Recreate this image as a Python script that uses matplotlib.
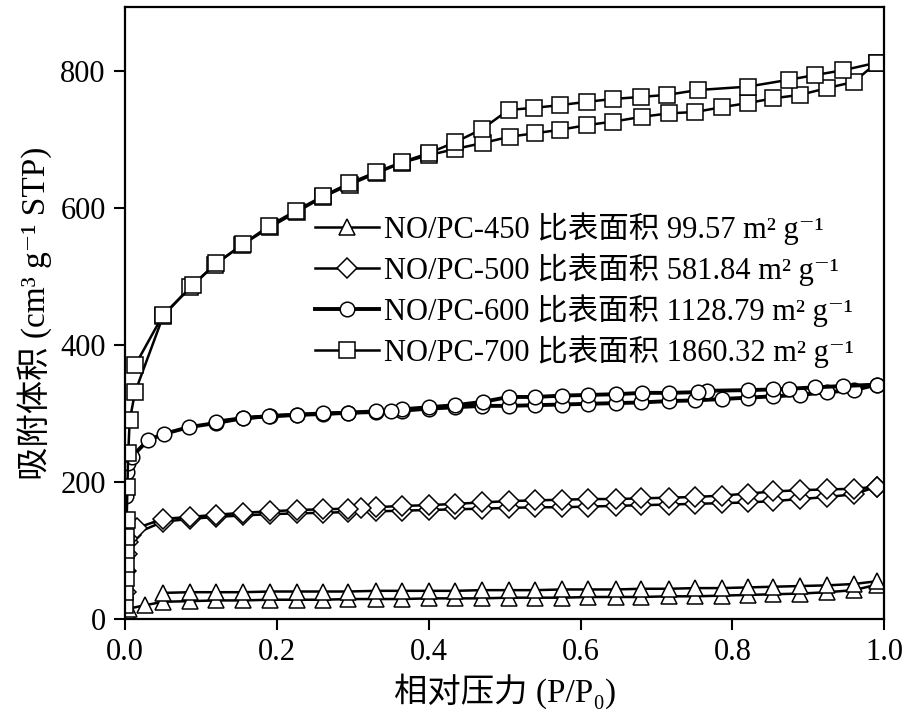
import matplotlib
matplotlib.use("Agg")
import matplotlib.pyplot as plt

plt.rcParams["font.family"] = ["Liberation Serif", "Noto Sans CJK SC", "DejaVu Serif"]

# NO/PC-450 (triangles)
x450_ads = [0.0005, 0.001, 0.002, 0.005, 0.026, 0.05, 0.086, 0.12, 0.155, 0.191, 0.226,
            0.26, 0.294, 0.33, 0.365, 0.40, 0.435, 0.47, 0.505, 0.54, 0.576, 0.61, 0.646,
            0.68, 0.716, 0.751, 0.786, 0.82, 0.854, 0.889, 0.925, 0.96, 0.99]
y450_ads = [4, 8, 11, 15, 20, 25, 26, 27, 27, 28, 28, 28, 29, 29, 29, 30, 30, 30, 31, 31,
            31, 32, 32, 32, 33, 33, 34, 35, 36, 37, 39, 42, 50]
x450_des = [0.99, 0.96, 0.925, 0.889, 0.854, 0.82, 0.786, 0.751, 0.716, 0.68, 0.646, 0.61,
            0.576, 0.54, 0.505, 0.47, 0.435, 0.40, 0.365, 0.33, 0.294, 0.26, 0.226, 0.191,
            0.155, 0.12, 0.086, 0.05]
y450_des = [55, 51, 49, 48, 47, 46, 45, 45, 44, 44, 43, 43, 43, 42, 42, 42, 41, 41, 41,
            41, 40, 40, 40, 40, 39, 39, 39, 38]

# NO/PC-500 (diamonds)
x500_ads = [0.0005, 0.001, 0.002, 0.004, 0.008, 0.05, 0.086, 0.12, 0.155, 0.191, 0.226,
            0.26, 0.294, 0.33, 0.365, 0.40, 0.435, 0.47, 0.505, 0.54, 0.576, 0.61, 0.646,
            0.68, 0.716, 0.751, 0.786, 0.82, 0.854, 0.889, 0.925, 0.96, 0.99]
y500_ads = [40, 70, 95, 112, 122, 142, 146, 149, 151, 153, 154, 155, 156, 157, 158, 159,
            160, 161, 162, 163, 163, 164, 165, 166, 167, 168, 169, 170, 172, 175, 178, 182, 193]
x500_des = [0.99, 0.96, 0.925, 0.889, 0.854, 0.82, 0.786, 0.751, 0.716, 0.68, 0.646, 0.61,
            0.576, 0.54, 0.505, 0.47, 0.435, 0.40, 0.365, 0.33, 0.31, 0.294, 0.26, 0.226,
            0.191, 0.155, 0.12, 0.086, 0.05, 0.016]
y500_des = [193, 190, 189, 188, 186, 183, 180, 178, 177, 176, 175, 175, 174, 173, 172,
            170, 168, 166, 165, 163, 162, 161, 160, 159, 157, 155, 152, 149, 146, 133]

# NO/PC-600 (circles)
x600_ads = [0.0005, 0.001, 0.002, 0.004, 0.009, 0.03, 0.051, 0.084, 0.12, 0.155, 0.191,
            0.226, 0.26, 0.294, 0.33, 0.365, 0.40, 0.435, 0.47, 0.505, 0.54, 0.576, 0.61,
            0.646, 0.68, 0.716, 0.751, 0.786, 0.82, 0.854, 0.889, 0.925, 0.96, 0.99]
y600_ads = [120, 180, 215, 228, 237, 261, 270, 280, 286, 293, 296, 298, 299, 301, 302,
            304, 307, 309, 311, 311, 312, 313, 314, 315, 316, 318, 319, 321, 323, 325, 327,
            331, 334, 342]
x600_des = [0.99, 0.945, 0.909, 0.874, 0.854, 0.82, 0.767, 0.754, 0.716, 0.681, 0.646,
            0.61, 0.576, 0.54, 0.505, 0.472, 0.435, 0.40, 0.365, 0.35, 0.33, 0.294, 0.26,
            0.226, 0.19, 0.155, 0.12]
y600_des = [342, 340, 338, 336, 335, 334, 333, 331, 330, 330, 328, 327, 326, 324, 324,
            317, 312, 309, 306, 304, 303, 301, 300, 298, 296, 293, 288]

# NO/PC-700 (squares)
x700_ads = [0.0002, 0.0004, 0.0006, 0.0008, 0.001, 0.0015, 0.002, 0.003, 0.004, 0.006,
            0.013, 0.05, 0.086, 0.118, 0.154, 0.191, 0.226, 0.261, 0.296, 0.332, 0.365,
            0.40, 0.435, 0.472, 0.507, 0.54, 0.573, 0.609, 0.643, 0.681, 0.716, 0.751,
            0.786, 0.82, 0.854, 0.889, 0.925, 0.96, 0.99]
y700_ads = [20, 40, 60, 80, 100, 120, 145, 193, 242, 290, 331, 442, 485, 517, 546, 572,
            594, 616, 634, 651, 666, 677, 686, 695, 704, 709, 714, 721, 726, 733, 738, 740,
            747, 753, 760, 765, 775, 784, 812]
x700_des = [0.99, 0.946, 0.909, 0.874, 0.82, 0.754, 0.714, 0.679, 0.643, 0.609, 0.573,
            0.538, 0.505, 0.47, 0.435, 0.40, 0.365, 0.33, 0.295, 0.26, 0.225, 0.19, 0.155,
            0.12, 0.09, 0.05, 0.013]
y700_des = [812, 801, 794, 787, 777, 772, 765, 762, 759, 755, 750, 746, 743, 715, 696,
            680, 667, 652, 636, 617, 596, 574, 547, 519, 488, 444, 370]

labels = [
    "NO/PC-450 比表面积 99.57 m² g⁻¹",
    "NO/PC-500 比表面积 581.84 m² g⁻¹",
    "NO/PC-600 比表面积 1128.79 m² g⁻¹",
    "NO/PC-700 比表面积 1860.32 m² g⁻¹",
]

series = [
    (x450_ads, y450_ads, x450_des, y450_des, "^", 1.8, 11),
    (x500_ads, y500_ads, x500_des, y500_des, "D", 1.8, 10),
    (x600_ads, y600_ads, x600_des, y600_des, "o", 2.8, 10.5),
    (x700_ads, y700_ads, x700_des, y700_des, "s", 1.8, 11),
]

fig = plt.figure(figsize=(9.07, 7.18), dpi=100)
ax = fig.add_axes([0.138, 0.138, 0.837, 0.852])

handles = []
for (xa, ya, xd, yd, m, lw, ms), lab in zip(series, labels):
    kw = dict(color="black", lw=lw, marker=m, markersize=ms, markerfacecolor="white",
              markeredgecolor="black", markeredgewidth=1.1)
    (h,) = ax.plot(xa, ya, label=lab, **kw)
    ax.plot(xd, yd, **kw)
    handles.append(h)

ax.set_xlim(0, 1.0)
ax.set_ylim(0, 893)
ax.set_xticks([0.0, 0.2, 0.4, 0.6, 0.8, 1.0])
ax.set_xticklabels(["0.0", "0.2", "0.4", "0.6", "0.8", "1.0"])
ax.set_yticks([0, 200, 400, 600, 800])
ax.tick_params(direction="out", length=8, width=1.5, labelsize=22, pad=6)
for s in ax.spines.values():
    s.set_linewidth(1.6)

ax.set_xlabel("相对压力 (P/P₀)", fontsize=24, labelpad=4)
ax.set_ylabel("吸附体积 (cm³ g⁻¹ STP)", fontsize=24, labelpad=6)

ax.legend(handles=handles, loc="center left", bbox_to_anchor=(0.25, 0.538),
          frameon=False, fontsize=22, handlelength=2.1, handletextpad=0.15,
          labelspacing=0.27, borderpad=0, borderaxespad=0)

fig.savefig("out.png", dpi=100)
